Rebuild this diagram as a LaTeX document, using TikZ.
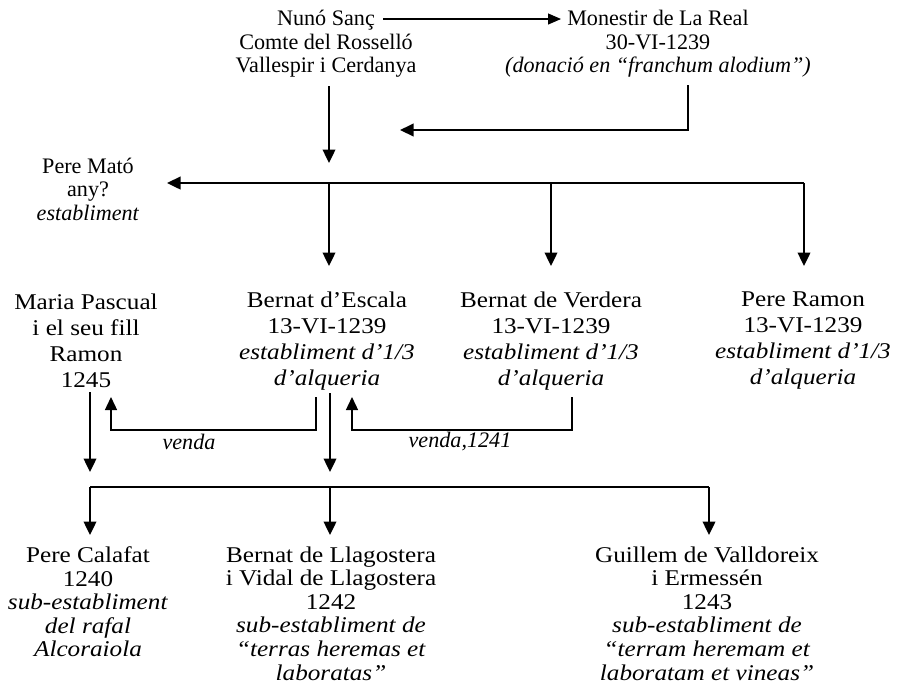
\documentclass[tikz,border=0pt]{standalone}
\usepackage{fontspec}
\setmainfont{Liberation Serif}
\newfontfamily\widefont{Liberation Serif}[FakeStretch=1.12]
\usepackage{tikz}
\usetikzlibrary{positioning}
\usetikzlibrary{arrows.meta}
\pgfdeclarelayer{nodelayer}
\pgfdeclarelayer{edgelayer}
\pgfsetlayers{nodelayer,edgelayer,main}
\tikzset{
  entry/.style={align=center, inner sep=0pt, font=\fontsize{12.6pt}{13.4pt}\selectfont},
  wideentry/.style={align=center, inner sep=0pt, font=\widefont\fontsize{12.8pt}{14.8pt}\selectfont},
  lowentry/.style={align=center, inner sep=0pt, font=\widefont\fontsize{12.8pt}{13.4pt}\selectfont},
  arr/.style={line width=0.048cm, -{Triangle[length=0.27cm, width=0.25cm]}},
  backarr/.style={line width=0.04cm, -{Triangle[length=0.27cm, width=0.25cm]}},
  thinarr/.style={line width=0.022cm, -{Triangle[length=0.26cm, width=0.22cm]}},
  vendaarr/.style={line width=0.028cm, -{Triangle[length=0.26cm, width=0.24cm]}},
  bar/.style={line width=0.048cm}
}

\begin{document}
\begin{tikzpicture}
  \useasboundingbox (0, 0) rectangle (17.98, -13.9);
  \begin{pgfonlayer}{nodelayer}
    \node [entry] (0) at (6.52, -0.88) {Nunó Sanç\\Comte del Rosselló\\Vallespir i Cerdanya};
    \node [entry] (1) at (13.16, -0.88) {Monestir de La Real\\30-VI-1239\\\textit{(donació en “franchum alodium”)}};
    \node [entry] (2) at (1.76, -3.78) {Pere Mató\\any?\\\textit{establiment}};
    \node [wideentry] (3) at (1.72, -6.82) {Maria Pascual\\i el seu fill\\Ramon\\1245};
    \node [wideentry] (4) at (6.54, -6.82) {Bernat d’Escala\\13-VI-1239\\\textit{establiment d’1/3}\\\textit{d’alqueria}};
    \node [wideentry] (5) at (11.02, -6.82) {Bernat de Verdera\\13-VI-1239\\\textit{establiment d’1/3}\\\textit{d’alqueria}};
    \node [wideentry] (6) at (16.06, -6.82) {Pere Ramon\\13-VI-1239\\\textit{establiment d’1/3}\\\textit{d’alqueria}};
    \node [lowentry] (7) at (1.76, -12.04) {Pere Calafat\\1240\\\textit{sub-establiment}\\\textit{del rafal}\\\textit{Alcoraiola}};
    \node [lowentry] (8) at (6.62, -12.27) {Bernat de Llagostera\\i Vidal de Llagostera\\1242\\\textit{sub-establiment de}\\\textit{“terras heremas et}\\\textit{laboratas”}};
    \node [lowentry] (9) at (14.14, -12.27) {Guillem de Valldoreix\\i Ermessén\\1243\\\textit{sub-establiment de}\\\textit{“terram heremam et}\\\textit{laboratam et vineas”}};
    \node [entry] (10) at (3.78, -8.84) {\textit{venda}};
    \node [entry] (11) at (9.2, -8.84) {\textit{venda,1241}};
    \node [] (12) at (7.66, -0.38) {};
    \node [] (13) at (11.22, -0.38) {};
    \node [] (14) at (13.76, -1.7) {};
    \node [] (15) at (8.0, -2.6) {};
    \node [] (16) at (6.58, -1.72) {};
    \node [] (17) at (6.58, -3.26) {};
    \node [] (18) at (3.34, -3.66) {};
    \node [] (19) at (6.58, -3.66) {};
    \node [] (20) at (11.02, -3.66) {};
    \node [] (21) at (16.08, -3.66) {};
    \node [] (22) at (6.58, -5.32) {};
    \node [] (23) at (11.02, -5.32) {};
    \node [] (24) at (16.08, -5.32) {};
    \node [] (25) at (6.32, -7.94) {};
    \node [] (26) at (6.32, -8.6) {};
    \node [] (27) at (2.22, -8.6) {};
    \node [] (28) at (2.22, -7.94) {};
    \node [] (29) at (11.44, -7.94) {};
    \node [] (30) at (11.44, -8.6) {};
    \node [] (31) at (7.04, -8.6) {};
    \node [] (32) at (7.04, -7.94) {};
    \node [] (33) at (6.6, -7.86) {};
    \node [] (34) at (6.6, -9.44) {};
    \node [] (35) at (1.8, -7.84) {};
    \node [] (36) at (1.8, -9.44) {};
    \node [] (37) at (1.8, -9.74) {};
    \node [] (38) at (6.6, -9.74) {};
    \node [] (39) at (14.18, -9.74) {};
    \node [] (40) at (1.8, -10.7) {};
    \node [] (41) at (6.6, -10.7) {};
    \node [] (42) at (14.18, -10.7) {};
  \end{pgfonlayer}
  \begin{pgfonlayer}{edgelayer}
    \draw [thinarr] (12.center) to (13.center);
    \draw [backarr] (14.center) |- (15.center);
    \draw [arr] (16.center) to (17.center);
    \draw [arr] (21.center) to (18.center);
    \draw [arr] (19.center) to (22.center);
    \draw [arr] (20.center) to (23.center);
    \draw [arr] (21.center) to (24.center);
    \draw [vendaarr] (25.center) -- (26.center) -- (27.center) -- (28.center);
    \draw [vendaarr] (29.center) -- (30.center) -- (31.center) -- (32.center);
    \draw [arr] (33.center) to (34.center);
    \draw [arr] (35.center) to (36.center);
    \draw [bar] (37.center) to (39.center);
    \draw [arr] (37.center) to (40.center);
    \draw [arr] (38.center) to (41.center);
    \draw [arr] (39.center) to (42.center);
  \end{pgfonlayer}
\end{tikzpicture}
\end{document}
